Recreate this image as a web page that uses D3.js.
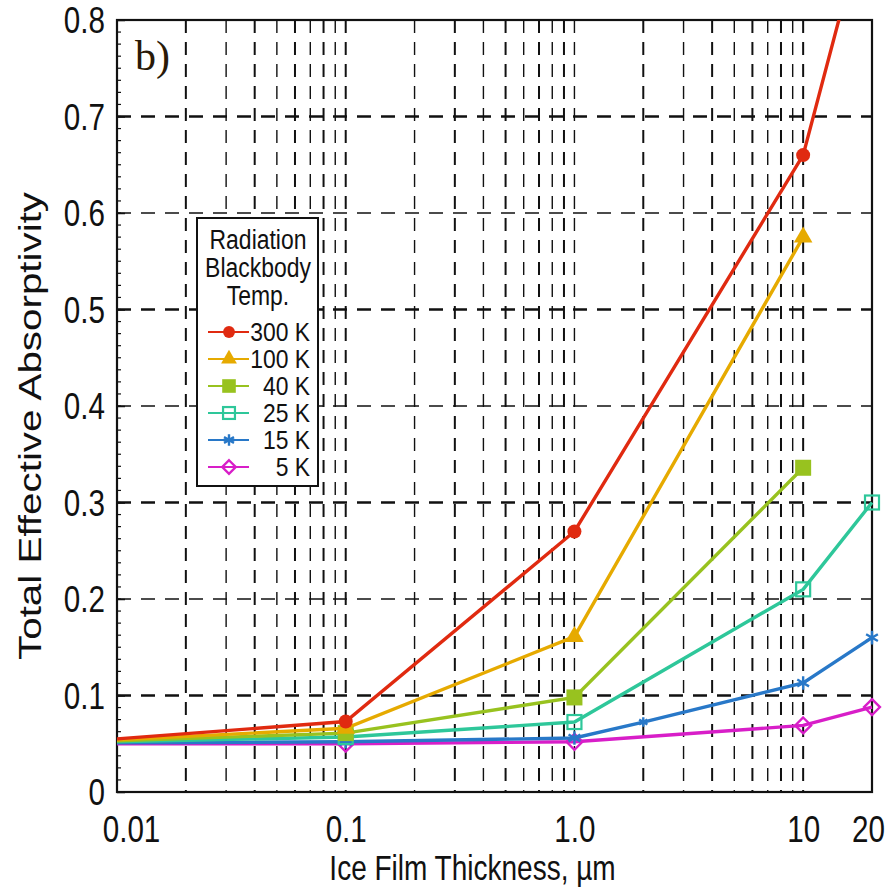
<!DOCTYPE html>
<html>
<head>
<meta charset="utf-8">
<script src="https://cdn.jsdelivr.net/npm/d3@7"></script>
<style>
  body { margin: 0; background: #fff; }
  text { font-family: "Liberation Sans", Arial, sans-serif; }
</style>
</head>
<body>
<div id="wrapper"></div>
<script>
// tick values and labels
const xTickVals = [0.01, 0.1, 1, 10, 20];
const xTickLabels = ["0.01", "0.1", "1.0", "10", "20"];
const yTickVals = [0, 0.1, 0.2, 0.3, 0.4, 0.5, 0.6, 0.7, 0.8];
const yTickLabels = ["0", "0.1", "0.2", "0.3", "0.4", "0.5", "0.6", "0.7", "0.8"];

// series: ice film thickness (um) vs total effective absorptivity
const x300 = [0.01, 0.1, 1, 10, 20];
const y300 = [0.055, 0.073, 0.270, 0.660, 0.930];
const x100 = [0.01, 0.1, 1, 10];
const y100 = [0.054, 0.066, 0.161, 0.575];
const x40 = [0.01, 0.1, 1, 10];
const y40 = [0.053, 0.061, 0.098, 0.336];
const x25 = [0.01, 0.1, 1, 10, 20];
const y25 = [0.052, 0.057, 0.0725, 0.210, 0.300];
const x15 = [0.01, 0.1, 1, 2, 10, 20];
const y15 = [0.051, 0.052, 0.056, 0.0725, 0.113, 0.160];
const x5 = [0.01, 0.1, 1, 10, 20];
const y5 = [0.050, 0.050, 0.052, 0.069, 0.088];

const legendNames = ["300 K", "100 K", "40 K", "25 K", "15 K", "5 K"];

const series = [
  {name: legendNames[0], xs: x300, ys: y300, color: "#e02a10", marker: "circle"},
  {name: legendNames[1], xs: x100, ys: y100, color: "#e6aa00", marker: "triangle"},
  {name: legendNames[2], xs: x40,  ys: y40,  color: "#98c21f", marker: "square"},
  {name: legendNames[3], xs: x25,  ys: y25,  color: "#2ec79a", marker: "opensquare"},
  {name: legendNames[4], xs: x15,  ys: y15,  color: "#2878c8", marker: "star"},
  {name: legendNames[5], xs: x5,   ys: y5,   color: "#d81ec8", marker: "diamond"}
];

var margin = {top: 20, right: 16, bottom: 95, left: 117},
    width = 888 - margin.left - margin.right,
    height = 887 - margin.top - margin.bottom;

var svg = d3.select("#wrapper")
  .append("svg")
    .attr("width", 888)
    .attr("height", 887)
  .append("g")
    .attr("transform", "translate(" + margin.left + "," + margin.top + ")");

var x = d3.scaleLog().domain([0.01, 20]).range([0, width]);
var y = d3.scaleLinear().domain([0, 0.8]).range([height, 0]);

/* squeeze text horizontally, the original uses a narrow face */
function narrow(sel, k) {
  sel.each(function() {
    var t = d3.select(this);
    var tx = +t.attr("x") || 0, ty = +t.attr("y") || 0;
    t.attr("x", 0).attr("y", 0)
     .attr("transform", "translate(" + tx + "," + ty + ") scale(" + k + ",1)");
  });
}

/* grid: vertical dashed lines at every log step */
var xGrid = [];
[0.01, 0.1, 1].forEach(function(dec) {
  for (var m = 1; m <= 9; m++) {
    if (dec * m > 0.01) xGrid.push(dec * m);
  }
});
xGrid.push(10);

svg.selectAll(".vgrid")
  .data(xGrid)
  .enter()
  .append("line")
    .attr("x1", d => x(d)).attr("x2", d => x(d))
    .attr("y1", 0).attr("y2", height)
    .attr("stroke", "#111")
    .attr("stroke-width", (d, i) => (i % 2 ? 1.4 : 2))
    .attr("stroke-dasharray", "13,9");

svg.selectAll(".hgrid")
  .data(yTickVals.slice(1, 8))
  .enter()
  .append("line")
    .attr("x1", 0).attr("x2", width)
    .attr("y1", d => y(d)).attr("y2", d => y(d))
    .attr("stroke", "#111")
    .attr("stroke-width", (d, i) => (i % 2 ? 1.4 : 2.4))
    .attr("stroke-dasharray", "14,10");

/* y minor ticks */
svg.selectAll(".yminor")
  .data(d3.range(0, 0.8001, 0.0125))
  .enter()
  .append("line")
    .attr("x1", 0).attr("x2", 4)
    .attr("y1", d => y(d)).attr("y2", d => y(d))
    .attr("stroke", "#111").attr("stroke-width", 1.2);

/* frame */
svg.append("rect")
  .attr("x", 0).attr("y", 0)
  .attr("width", width).attr("height", height)
  .attr("fill", "none").attr("stroke", "#111").attr("stroke-width", 2.2);

/* axes labels */
svg.append("g")
  .attr("transform", "translate(0," + height + ")")
  .call(d3.axisBottom(x).tickValues(xTickVals).tickSize(0).tickPadding(24)
        .tickFormat((d, i) => xTickLabels[i]))
  .call(g => g.select(".domain").remove())
  .selectAll("text")
    .attr("font-size", 37)
    .attr("fill", "#111")
    .attr("x", (d, i) => (i === 0 ? 14 : i === 4 ? -4 : 0))
    .call(narrow, 0.8);

svg.append("g")
  .call(d3.axisLeft(y).tickValues(yTickVals).tickSize(8).tickPadding(4)
        .tickFormat((d, i) => yTickLabels[i]))
  .call(g => g.select(".domain").remove())
  .call(g => g.selectAll("line").attr("x2", 8).attr("stroke", "#111").attr("stroke-width", 1.5))
  .selectAll("text")
    .attr("font-size", 37)
    .attr("fill", "#111")
    .attr("dy", "0.35em")
    .call(narrow, 0.8);

svg.append("text")
  .attr("x", width / 2 - 22)
  .attr("y", height + 88)
  .attr("text-anchor", "middle")
  .attr("font-size", 35)
  .attr("fill", "#111")
  .text("Ice Film Thickness, \u00b5m")
  .call(narrow, 0.8);

svg.append("text")
  .attr("transform", "translate(" + (-76) + "," + (height / 2 + 20) + ")rotate(-90)")
  .attr("text-anchor", "middle")
  .attr("font-size", 32)
  .attr("fill", "#111")
  .attr("textLength", 468)
  .attr("lengthAdjust", "spacingAndGlyphs")
  .text("Total Effective Absorptivity");

svg.append("text")
  .attr("x", 18).attr("y", 50)
  .attr("font-size", 42)
  .attr("fill", "#2a1a08")
  .style("font-family", "'Liberation Serif', 'Times New Roman', serif")
  .text("b)");

/* clip lines at the top of the plot */
svg.append("clipPath").attr("id", "clip")
  .append("rect").attr("x", -5).attr("y", 0).attr("width", width + 20).attr("height", height + 10);

function drawMarker(g, type, color, cx, cy, scale) {
  scale = scale || 1;
  if (type === "circle") {
    g.append("circle").attr("cx", cx).attr("cy", cy).attr("r", 7 * scale).attr("fill", color);
  } else if (type === "triangle") {
    g.append("path").attr("transform", "translate(" + cx + "," + cy + ")")
      .attr("d", d3.symbol().type(d3.symbolTriangle).size(150 * scale * scale)()).attr("fill", color);
  } else if (type === "square") {
    var s = 16 * scale;
    g.append("rect").attr("x", cx - s / 2).attr("y", cy - s / 2).attr("width", s).attr("height", s).attr("fill", color);
  } else if (type === "opensquare") {
    var s2 = 14 * scale;
    g.append("rect").attr("x", cx - s2 / 2).attr("y", cy - s2 / 2).attr("width", s2).attr("height", s2)
      .attr("fill", "none").attr("stroke", color).attr("stroke-width", 2.2);
  } else if (type === "star") {
    g.append("path").attr("transform", "translate(" + cx + "," + cy + ")")
      .attr("d", d3.symbol().type(d3.symbolAsterisk).size(130 * scale * scale)())
      .attr("fill", "none").attr("stroke", color).attr("stroke-width", 2.4);
  } else if (type === "diamond") {
    g.append("path").attr("transform", "translate(" + cx + "," + cy + ")")
      .attr("d", d3.symbol().type(d3.symbolDiamond2).size(160 * scale * scale)())
      .attr("fill", "none").attr("stroke", color).attr("stroke-width", 2.4);
  }
}

var line = d3.line().x(d => x(d[0])).y(d => y(d[1]));

series.slice().reverse().forEach(function(s) {
  var pts = s.xs.map((v, i) => [v, s.ys[i]]);
  svg.append("path")
    .datum(pts)
    .attr("clip-path", "url(#clip)")
    .attr("d", line)
    .attr("fill", "none")
    .attr("stroke", s.color)
    .attr("stroke-width", 3.4);
  var mg = svg.append("g");
  pts.forEach(function(p, i) {
    if (i === 0 || p[1] > 0.8) return;
    drawMarker(mg, s.marker, s.color, x(p[0]), y(p[1]), p[0] === 2 ? 0.7 : 1);
  });
});

/* legend */
var lg = svg.append("g").attr("transform", "translate(" + (197 - margin.left) + "," + (218 - margin.top) + ")");
lg.append("rect").attr("width", 121).attr("height", 268)
  .attr("fill", "#fff").attr("stroke", "#111").attr("stroke-width", 2);
["Radiation", "Blackbody", "Temp."].forEach(function(t, i) {
  lg.append("text").attr("x", 61).attr("y", 31 + i * 28)
    .attr("text-anchor", "middle").attr("font-size", 27).attr("fill", "#111").text(t)
    .call(narrow, 0.85);
});
series.forEach(function(s, i) {
  var ry = 114 + i * 27;
  lg.append("line").attr("x1", 11).attr("x2", 52).attr("y1", ry).attr("y2", ry)
    .attr("stroke", s.color).attr("stroke-width", 2);
  drawMarker(lg, s.marker, s.color, 32, ry, 0.85);
  lg.append("text").attr("x", 113).attr("y", ry + 9)
    .attr("text-anchor", "end").attr("font-size", 26).attr("fill", "#111").text(s.name)
    .call(narrow, 0.88);
});
</script>
</body>
</html>
